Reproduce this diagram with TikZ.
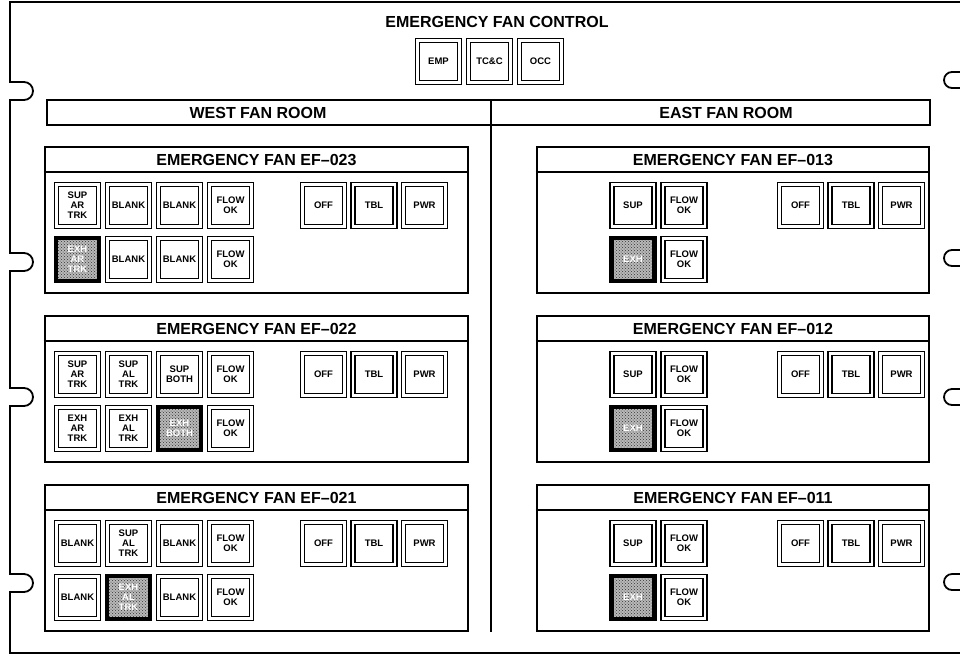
\documentclass[tikz,border=0pt]{standalone}
\usepackage{fontspec}
\setmainfont{Liberation Sans}
\usetikzlibrary{patterns}
\newcommand\ttlfont{\fontsize{16}{16}\selectfont\bfseries}
\newcommand\btnfont{\fontsize{9.5}{10}\selectfont\bfseries}

\begin{document}
\begin{tikzpicture}[x=1pt,y=-1pt,
  frame/.style={line width=1.8pt},
  panel/.style={draw,line width=2.6pt,minimum height=146pt,inner sep=0pt},
  strip/.style={line width=1.8pt},
  ttl/.style={font=\ttlfont,inner sep=0pt},
  btn/.style={draw,line width=1.4pt,double,double distance=2.8pt,minimum size=42pt,inner sep=0pt,align=center,font=\btnfont},
  lit/.style={draw,line width=4.5pt,minimum size=43pt,inner sep=0pt,align=center,font=\btnfont,text=white,
    preaction={fill=gray!55},pattern=crosshatch dots,pattern color=black!80}]
\useasboundingbox (0,0) rectangle (960,657);
% outer frame with mounting notches
\draw[frame] (960,2) -- (10,2) \foreach \y in {91,262,397,583}{ -- (10,\y-9) -- (24,\y-9) arc[start angle=90,end angle=-90,radius=9pt] -- (10,\y+9)} -- (10,653) -- (960,653);
\foreach \y in {80,258,397,582} \draw[frame] (960,\y-8) -- (952,\y-8) arc[start angle=90,end angle=270,radius=8pt] -- (960,\y+8);
% control
\node[ttl] (ctl) at (497,22) {EMERGENCY FAN CONTROL};
\foreach \lbl [count=\i] in {EMP,TC\&C,OCC} \node[btn] (c\i) at (387.5+51*\i,61.5) {\lbl};
% rooms
\node[draw,line width=2.2pt,minimum width=883pt,minimum height=25pt,inner sep=0pt] (rooms) at (488.5,112.5) {};
\draw[line width=2pt] (491,100) -- (491,632);
\node[ttl] (west) at (258,112.5) {WEST FAN ROOM};
\node[ttl] (east) at (726,112.5) {EAST FAN ROOM};
% fan panels
\foreach \n/\x/\w/\y/\id/\o in {w1/256.5/423/147/023/273,w2/256.5/423/316/022/273,w3/256.5/423/485/021/273,
    e1/733/392/147/013/750,e2/733/392/316/012/750,e3/733/392/485/011/750}{
  \node[panel,minimum width=\w pt] (\n) at (\x,\y+73) {};
  \draw[strip] ([yshift=-26pt]\n.north west) -- ([yshift=-26pt]\n.north east);
  \node[ttl] (\n-t) at ([yshift=-14pt]\n.north) {EMERGENCY FAN EF--\id};
  \foreach \lbl [count=\i] in {OFF,TBL,PWR} \node[btn] (\n-s\i) at (\o+50.5*\i,\y+58.5) {\lbl};
}
% west buttons
\foreach \lbl/\s [count=\i] in {{SUP\\AR\\TRK}/btn,BLANK/btn,BLANK/btn,{FLOW\\OK}/btn} \node[\s] (w1-a\i) at (26.5+51*\i,205.5) {\lbl};
\foreach \lbl/\s [count=\i] in {{EXH\\AR\\TRK}/lit,BLANK/btn,BLANK/btn,{FLOW\\OK}/btn} \node[\s] (w1-b\i) at (26.5+51*\i,259.5) {\lbl};
\foreach \lbl/\s [count=\i] in {{SUP\\AR\\TRK}/btn,{SUP\\AL\\TRK}/btn,{SUP\\BOTH}/btn,{FLOW\\OK}/btn} \node[\s] (w2-a\i) at (26.5+51*\i,374.5) {\lbl};
\foreach \lbl/\s [count=\i] in {{EXH\\AR\\TRK}/btn,{EXH\\AL\\TRK}/btn,{EXH\\BOTH}/lit,{FLOW\\OK}/btn} \node[\s] (w2-b\i) at (26.5+51*\i,428.5) {\lbl};
\foreach \lbl/\s [count=\i] in {BLANK/btn,{SUP\\AL\\TRK}/btn,BLANK/btn,{FLOW\\OK}/btn} \node[\s] (w3-a\i) at (26.5+51*\i,543.5) {\lbl};
\foreach \lbl/\s [count=\i] in {BLANK/btn,{EXH\\AL\\TRK}/lit,BLANK/btn,{FLOW\\OK}/btn} \node[\s] (w3-b\i) at (26.5+51*\i,597.5) {\lbl};
% east buttons
\foreach \n/\y in {e1/147,e2/316,e3/485}{
  \node[btn] (\n-sup) at (633,\y+58.5) {SUP};\node[btn] (\n-fa) at (684,\y+58.5) {FLOW\\OK};
  \node[lit] (\n-exh) at (633,\y+112.5) {EXH};\node[btn] (\n-fb) at (684,\y+112.5) {FLOW\\OK};
}
\end{tikzpicture}
\end{document}
